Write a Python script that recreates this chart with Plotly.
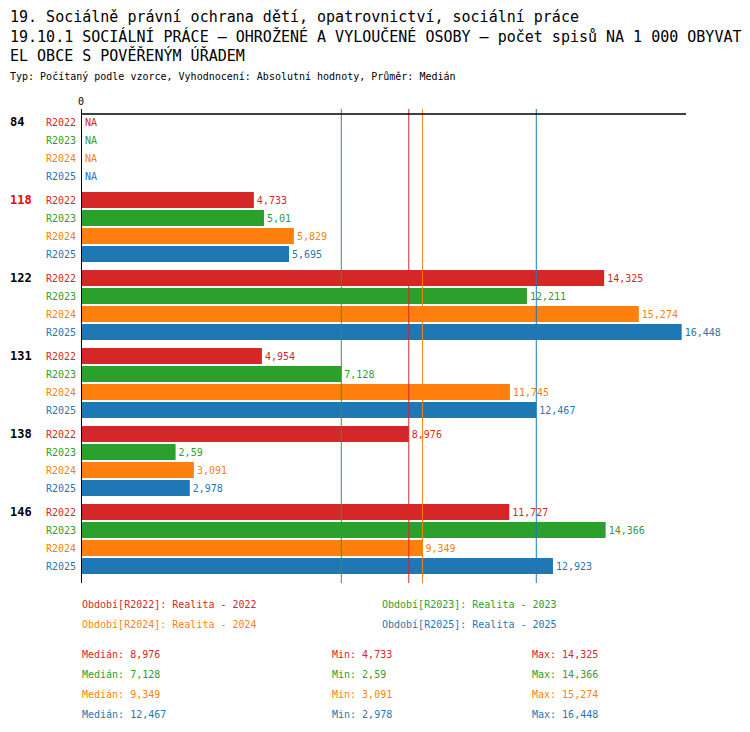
import numpy as np
import plotly.graph_objects as go

"""Data ==============================================================================="""

categories = ["84", "118", "122", "131", "138", "146"]
highlight = "118"

series_names = ["R2022", "R2023", "R2024", "R2025"]
series_titles = ["Realita - 2022", "Realita - 2023", "Realita - 2024", "Realita - 2025"]
series_colors = ["#d62728", "#2ca02c", "#ff7f0e", "#1f77b4"]

r2022 = [None, 4.733, 14.325, 4.954, 8.976, 11.727]
r2023 = [None, 5.01, 12.211, 7.128, 2.59, 14.366]
r2024 = [None, 5.829, 15.274, 11.745, 3.091, 9.349]
r2025 = [None, 5.695, 16.448, 12.467, 2.978, 12.923]
series_values = [r2022, r2023, r2024, r2025]

title_lines = [
    "19. Sociálně právní ochrana dětí, opatrovnictví, sociální práce",
    "19.10.1 SOCIÁLNÍ PRÁCE – OHROŽENÉ A VYLOUČENÉ OSOBY – počet spisů NA 1 000 OBYVAT",
    "EL OBCE S POVĚŘENÝM ÚŘADEM",
]
subtitle = "Typ: Počítaný podle vzorce, Vyhodnocení: Absolutní hodnoty, Průměr: Medián"

"""Layout helpers ====================================================================="""

OFF = 8                      # page body margin
W, H = 750 - OFF, 732 - OFF
# plot box measured on the page, converted to figure pixels
L, R, T, B = 81 - OFF, 686 - OFF, 109 - OFF, 583 - OFF
ROW = 18            # px per bar row
GROUP = 78          # px per category group
FONT = "DejaVu Sans Mono"


def px(x):
    # page x -> paper x
    return (x - OFF - L) / (R - L)


def py(y):
    # page y -> paper y
    return (B - (y - OFF)) / (B - T)


def fmt(v):
    return "NA" if v is None else ("%g" % v).replace(".", ",")


group_step = GROUP / ROW
first_row = 122 - OFF


def row_pos(g, s):
    return g * group_step + s


fig = go.Figure()
annotations = []

for s, (name, vals, color) in enumerate(zip(series_names, series_values, series_colors)):
    ys = [row_pos(g, s) for g in range(len(categories))]
    fig.add_trace(go.Bar(
        x=vals, y=ys, orientation="h", width=16 / ROW,
        marker=dict(color=color, line=dict(width=0)),
        text=["" if v is None else fmt(v) for v in vals],
        textposition="outside", constraintext="none", cliponaxis=False,
        textfont=dict(family=FONT, size=10, color=color),
        showlegend=False, hoverinfo="skip",
    ))
    for g, v in enumerate(vals):
        annotations.append(dict(x=px(78), y=ys[g], xref="paper", yref="y", text=name,
                                xanchor="right", yanchor="middle", showarrow=False,
                                font=dict(family=FONT, size=10, color=color)))
        if v is None:
            annotations.append(dict(x=0, y=ys[g], xref="x", yref="y", text="NA", xshift=2,
                                    xanchor="left", yanchor="middle", showarrow=False,
                                    font=dict(family=FONT, size=10, color=color)))

for g, cat in enumerate(categories):
    annotations.append(dict(x=px(8), y=row_pos(g, 0), xref="paper", yref="y",
                            text="<b>%s</b>" % cat, xanchor="left", yanchor="middle",
                            showarrow=False,
                            font=dict(family=FONT, size=12,
                                      color="#ff0000" if cat == highlight else "black")))

# median lines
shapes = []
stats = []
for vals, color in zip(series_values, series_colors):
    arr = np.array([v for v in vals if v is not None])
    med = float(np.median(arr))
    stats.append((med, arr.min(), arr.max()))
    shapes.append(dict(type="line", xref="x", yref="paper", x0=med, x1=med, y0=0, y1=1,
                       line=dict(color=color, width=1)))

# axis lines
x_max = (R - L) / 36.52
shapes.append(dict(type="line", xref="x", yref="y", x0=0, x1=x_max,
                   y0=-8 / ROW, y1=-8 / ROW, line=dict(color="black", width=1.5)))
shapes.append(dict(type="line", xref="x", yref="paper", x0=0, x1=0, y0=0, y1=1,
                   line=dict(color="black", width=2)))
annotations.append(dict(x=0, y=1, xref="x", yref="paper", text="0", xanchor="center",
                        yanchor="bottom", showarrow=False,
                        font=dict(family=FONT, size=10, color="black")))

# titles (the first line is pushed a little down so it is not clipped by the page margin)
for i, line in enumerate(title_lines):
    annotations.append(dict(x=px(OFF), y=py([17, 36, 55][i]), xref="paper", yref="paper",
                            text=line, xanchor="left", yanchor="middle", showarrow=False,
                            font=dict(family=FONT, size=15, color="black")))
annotations.append(dict(x=px(OFF), y=py(76), xref="paper", yref="paper", text=subtitle,
                        xanchor="left", yanchor="middle", showarrow=False,
                        font=dict(family=FONT, size=10, color="black")))

# legend block
leg_pos = [(80, 604), (380, 604), (80, 624), (380, 624)]
for (lx, ly), name, title, color in zip(leg_pos, series_names, series_titles, series_colors):
    annotations.append(dict(x=px(lx), y=py(ly), xref="paper", yref="paper",
                            text="Období[%s]: %s" % (name, title), xanchor="left",
                            yanchor="middle", showarrow=False,
                            font=dict(family=FONT, size=10, color=color)))

for i, ((med, mn, mx), color) in enumerate(zip(stats, series_colors)):
    yy = py(654 + 20 * i)
    for lx, label in [(80, "Medián: " + fmt(med)), (330, "Min: " + fmt(mn)), (530, "Max: " + fmt(mx))]:
        annotations.append(dict(x=px(lx), y=yy, xref="paper", yref="paper", text=label,
                                xanchor="left", yanchor="middle", showarrow=False,
                                font=dict(family=FONT, size=10, color=color)))

y_top = (T - first_row) / ROW
y_bot = (B - first_row) / ROW

fig.update_layout(
    width=W, height=H,
    margin=dict(l=L, r=W - R, t=T, b=H - B, pad=0),
    paper_bgcolor="white", plot_bgcolor="white",
    font=dict(family=FONT, size=10, color="black"),
    barmode="overlay",
    xaxis=dict(range=[0, x_max], showgrid=False, zeroline=False, showticklabels=False,
               showline=False, fixedrange=True),
    yaxis=dict(range=[y_bot, y_top], showgrid=False, zeroline=False, showticklabels=False,
               showline=False, fixedrange=True),
    shapes=shapes,
    annotations=annotations,
)

fig.write_html("out.html")
